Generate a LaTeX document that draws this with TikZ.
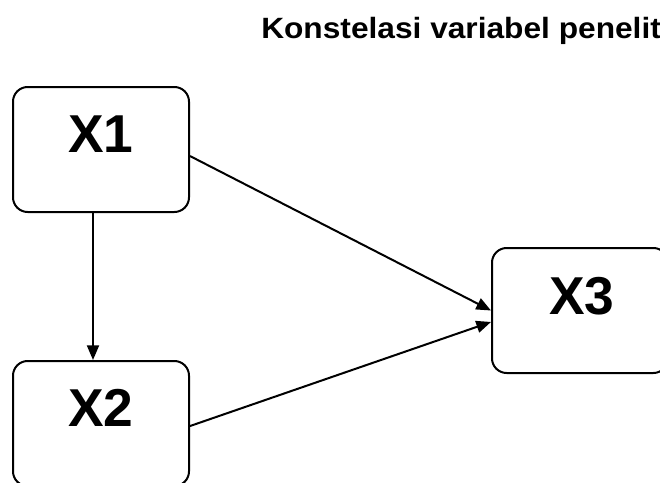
\documentclass[tikz,border=0pt]{standalone}
\usepackage{fontspec}
\setmainfont{Liberation Sans}
\usetikzlibrary{arrows.meta, positioning}

\tikzset{
  varbox/.style={draw, line width=1.5pt, rounded corners=11pt,
    minimum width=132pt, minimum height=93.75pt, inner sep=0pt},
  varname/.style={font=\fontsize{40}{40}\selectfont\bfseries, inner sep=0pt},
  link/.style={line width=1.5pt, -{Triangle[length=11pt,width=9pt]}}
}

\begin{document}
\begin{tikzpicture}[x=0.75pt, y=-0.75pt]
    \useasboundingbox (0,0) rectangle (660,482);
    \clip (0,0) rectangle (660,482);
    \node[anchor=base west, inner sep=0pt, font=\fontsize{22}{24}\selectfont\bfseries]
    (title) at (261,38) {\scalebox{1.08}[1]{Konstelasi variabel penelit}};
    % boxes
    \node[varbox] (x1) at (101,149.5) {};
    \node[varbox] (x2) at (101,423.5) {};
    \node[varbox] (x3) at (580,310.5) {};
    \foreach \n/\p in {1/{(101,134)},2/{(101,408)},3/{(582,296)}}{
    \node[varname] (n\n) at \p {X\n};}
    % links
    \draw[link] ([xshift=-6pt]x1.south) -- ([xshift=-6pt]x2.north);
    \draw[link] ([yshift=-4.9pt]x1.east) -- (x3.west);
    \draw[link] ([yshift=-1.9pt]x2.east) -- ([yshift=-8.6pt]x3.west);
\end{tikzpicture}
\end{document}
